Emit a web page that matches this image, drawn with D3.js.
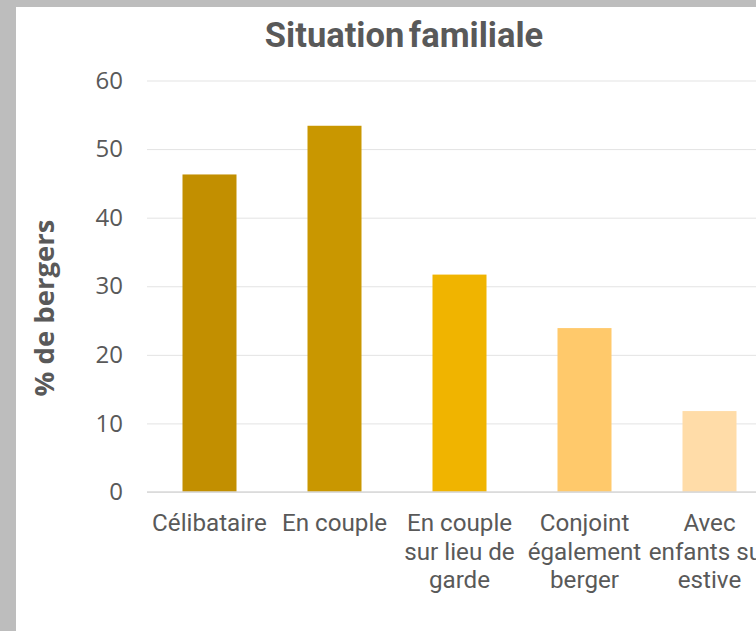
<!DOCTYPE html>
<html>
<head>
<meta charset="utf-8">
<script src="https://cdn.jsdelivr.net/npm/d3@7"></script>
<style>
  html, body { margin: 0; padding: 0; overflow: hidden; background: #bdbdbd; }
  svg { display: block; }
</style>
</head>
<body>
<script>
// chart data
var categories = ["Célibataire", "En couple", "En couple sur lieu de garde", "Conjoint également berger", "Avec enfants sur estive"];
var labelLines = [["Célibataire"], ["En couple"], ["En couple", "sur lieu de", "garde"], ["Conjoint", "également", "berger"], ["Avec", "enfants sur", "estive"]];
var values = [46.3, 53.4, 31.7, 23.9, 11.8];
var barColors = ["#c28f00", "#c99700", "#f0b400", "#ffc96b", "#ffdca8"];
var yTicks = [0, 10, 20, 30, 40, 50, 60];

var W = 756, H = 631;
var textColor = "#595959";

var svg = d3.select("body").append("svg")
    .attr("width", W)
    .attr("height", H);

// grey photo background + white panel
svg.append("rect").attr("width", W).attr("height", H).attr("fill", "#bdbdbd");
svg.append("rect").attr("x", 16).attr("y", 7).attr("width", W - 16).attr("height", H - 7).attr("fill", "#ffffff");

var x = d3.scaleBand()
    .domain(categories)
    .range([147, 772])
    .paddingInner(0.568)
    .paddingOuter(0.284);

var y = d3.scaleLinear()
    .domain([0, 60])
    .range([492, 80.5]);

// y axis with gridlines
var yAxis = svg.append("g")
    .attr("transform", "translate(147,0)")
    .call(d3.axisLeft(y).tickValues(yTicks).tickSize(-(W - 147)).tickPadding(24));
yAxis.select(".domain").remove();
yAxis.selectAll(".tick line").attr("stroke", "#e3e3e3").attr("stroke-width", 1);
yAxis.selectAll(".tick text")
    .attr("fill", textColor)
    .style("font-family", "'Open Sans', sans-serif")
    .style("font-size", "24px");

// bars
svg.append("g").selectAll("rect")
    .data(values)
    .enter().append("rect")
    .attr("x", function(d, i) { return x(categories[i]); })
    .attr("y", function(d) { return y(d); })
    .attr("width", x.bandwidth())
    .attr("height", function(d) { return y(0) - y(d); })
    .attr("fill", function(d, i) { return barColors[i]; });

// x axis baseline
svg.append("line")
    .attr("x1", 147).attr("x2", W)
    .attr("y1", y(0)).attr("y2", y(0))
    .attr("stroke", "#d9d9d9").attr("stroke-width", 1.5);

var xAxis = svg.append("g")
    .attr("transform", "translate(0," + y(0) + ")")
    .call(d3.axisBottom(x).tickSize(0).tickFormat(""));
xAxis.select(".domain").remove();
xAxis.selectAll(".tick text").remove();
xAxis.selectAll(".tick").append("text")
    .attr("text-anchor", "middle")
    .attr("fill", textColor)
    .style("font-family", "Roboto, sans-serif")
    .style("font-size", "24.2px")
    .selectAll("tspan")
    .data(function(d) { return labelLines[categories.indexOf(d)]; })
    .enter().append("tspan")
    .attr("x", 0)
    .attr("y", function(d, i) { return 39 + i * 28.7; })
    .text(function(d) { return d; });

// title
svg.append("text")
    .attr("x", 404)
    .attr("y", 47)
    .attr("text-anchor", "middle")
    .attr("fill", textColor)
    .style("font-family", "Roboto, sans-serif")
    .style("font-weight", "bold")
    .style("font-size", "34.5px")
    .style("word-spacing", "-4px")
    .text("Situation familiale");

// y axis title
svg.append("text")
    .attr("transform", "translate(54,308) rotate(-90)")
    .attr("text-anchor", "middle")
    .attr("fill", textColor)
    .style("font-family", "'Open Sans', sans-serif")
    .style("font-weight", "bold")
    .style("font-size", "27.5px")
    .text("% de bergers");
</script>
</body>
</html>
